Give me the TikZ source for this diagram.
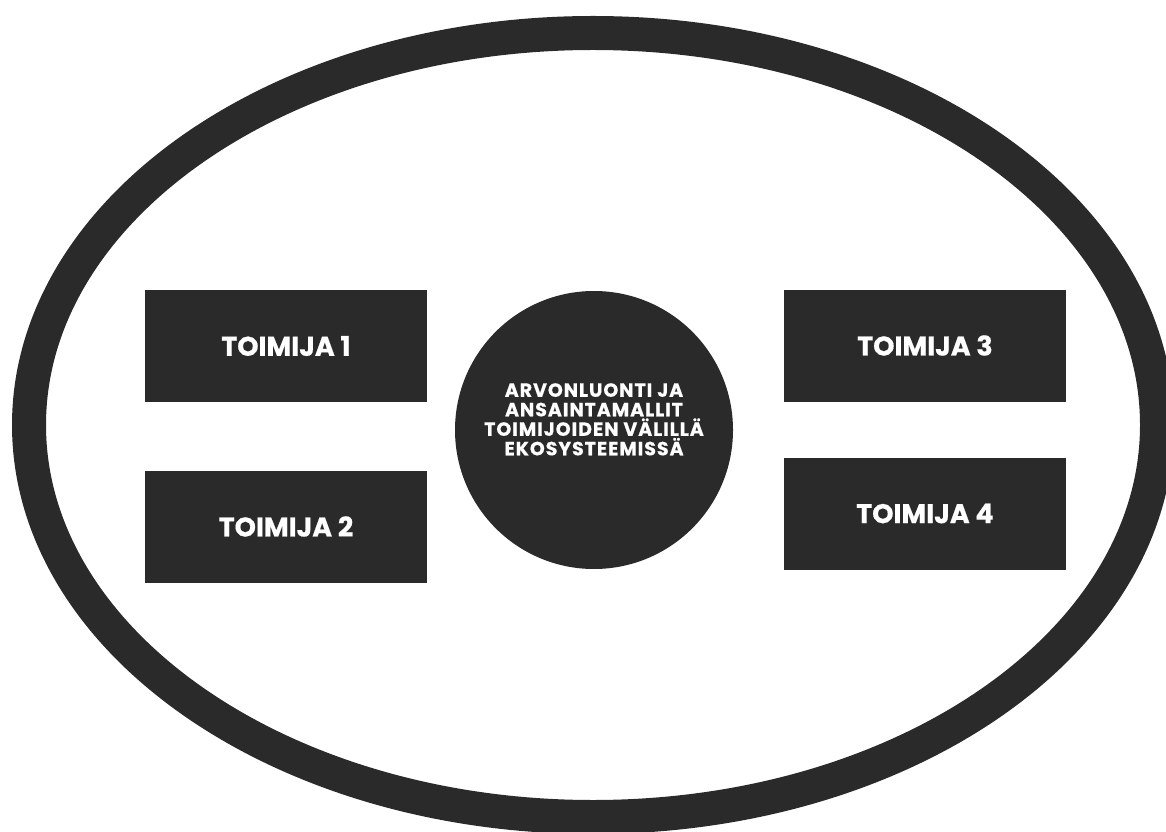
\documentclass[tikz,border=0pt]{standalone}
\usepackage{fontspec}
\setmainfont{Poppins}[BoldFeatures={FakeBold=0.6}]
\definecolor{ink}{HTML}{2A2A2A}
\begin{document}
\begin{tikzpicture}[x=1pt,y=1pt,
  actor/.style={rectangle,fill=ink,draw=ink,minimum width=281pt,minimum height=111pt,inner sep=0pt,
    text=white,font=\fontsize{27}{30}\selectfont\bfseries},
  hub/.style={circle,fill=ink,minimum size=278pt,inner sep=0pt,text=white,align=center,
    font=\fontsize{19}{19.5}\selectfont\bfseries\addfontfeature{LetterSpace=5}}]
\useasboundingbox (0,0) rectangle (1166,831);
\begin{scope}
\clip (0,0) rectangle (1166,815);
\draw[ink,line width=34pt] (593,406) ellipse [x radius=564, y radius=392];
\end{scope}
\node[actor] (t1) at (286,485) {TOIMIJA 1};
\node[actor] (t2) at (286,304.5) {TOIMIJA 2};
\node[actor] (t3) at (925,485.5) {TOIMIJA 3};
\node[actor] (t4) at (925,317.5) {TOIMIJA 4};
\node[hub] (c) at (594,401) {ARVONLUONTI JA\\ANSAINTAMALLIT\\TOIMIJOIDEN VÄLILLÄ\\EKOSYSTEEMISSÄ\\[2pt]\mbox{}};
\end{tikzpicture}
\end{document}
